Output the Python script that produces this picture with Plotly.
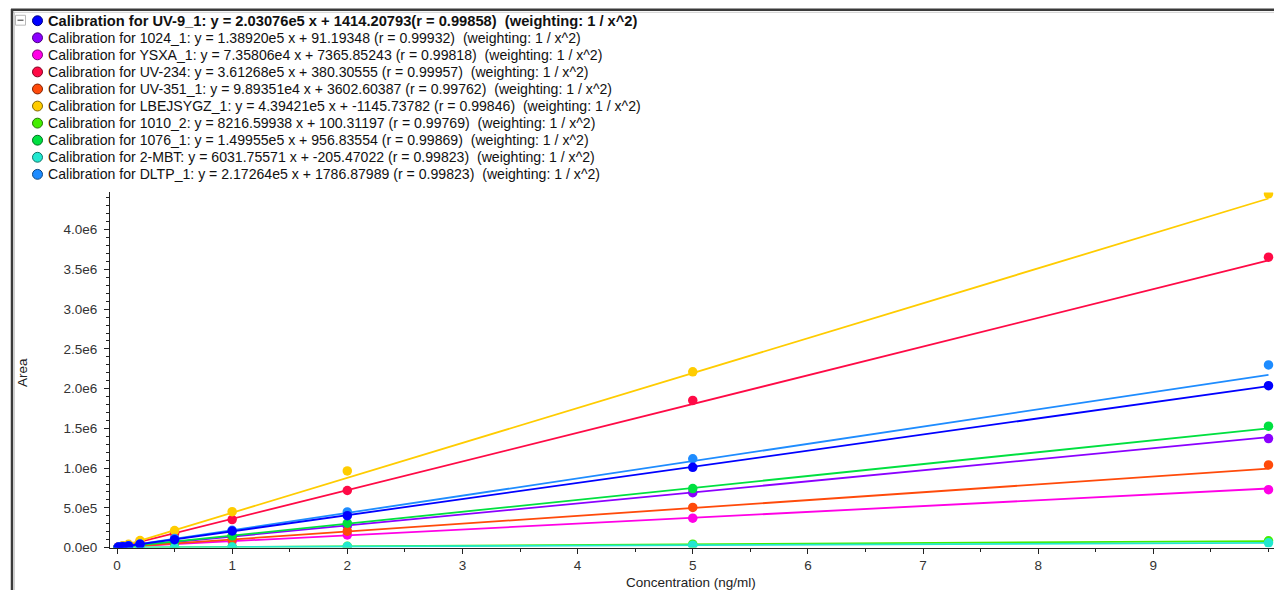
import plotly.graph_objects as go

# ---------------- data ----------------
concentration = [0.01, 0.02, 0.05, 0.1, 0.2, 0.5, 1, 2, 5, 10]

compounds = ["UV-9_1", "1024_1", "YSXA_1", "UV-234", "UV-351_1",
             "LBEJSYGZ_1", "1010_2", "1076_1", "2-MBT", "DLTP_1"]

slopes = [2.03076e5, 1.38920e5, 7.35806e4, 3.61268e5, 9.89351e4,
          4.39421e5, 8216.59938, 1.49955e5, 6031.75571, 2.17264e5]
intercepts = [1414.20793, 91.19348, 7365.85243, 380.30555, 3602.60387,
              -1145.73782, 100.31197, 956.83554, -205.47022, 1786.87989]
r_values = [0.99858, 0.99932, 0.99818, 0.99957, 0.99762,
            0.99846, 0.99769, 0.99869, 0.99823, 0.99823]
slope_text = ["2.03076e5", "1.38920e5", "7.35806e4", "3.61268e5", "9.89351e4",
              "4.39421e5", "8216.59938", "1.49955e5", "6031.75571", "2.17264e5"]

area_uv9 = [3620, 5210, 11940, 20880, 43150, 99870, 208600, 401300, 1009500, 2036800]
area_1024 = [1530, 2790, 7210, 13650, 28420, 68300, 141200, 272800, 690400, 1372000]
area_ysxa = [7980, 9120, 10630, 15280, 21450, 45820, 78900, 158300, 370200, 728000]
area_uv234 = [4120, 7380, 18950, 35700, 74100, 176800, 352600, 718300, 1852000, 3655000]
area_uv351 = [4470, 5720, 8310, 13880, 22760, 54300, 100900, 206400, 505100, 1040000]
area_lbejsygz = [3390, 7450, 21600, 41900, 88400, 213500, 452000, 965000, 2212000, 4452000]
area_1010 = [188, 259, 528, 901, 1790, 4120, 8460, 16180, 42100, 84500]
area_1076 = [2390, 4080, 8260, 16310, 30450, 77200, 148600, 306900, 742500, 1528000]
area_2mbt = [52, 98, 136, 412, 985, 2870, 5710, 12100, 30600, 59300]
area_dltp = [3810, 6390, 12280, 24160, 44380, 113600, 216500, 448200, 1118000, 2298000]

areas = [area_uv9, area_1024, area_ysxa, area_uv234, area_uv351,
         area_lbejsygz, area_1010, area_1076, area_2mbt, area_dltp]

colors = ["#0000FF", "#8B00FF", "#FF00E6", "#FF0A46", "#FF4A0A",
          "#FFCC00", "#44EE00", "#00E040", "#22E8D0", "#1E8CFF"]
outline = ["#000080", "#4B0080", "#80007A", "#800020", "#802000",
           "#806600", "#227700", "#007020", "#117468", "#0F4680"]

y_tick_vals = [0, 5e5, 1e6, 1.5e6, 2e6, 2.5e6, 3e6, 3.5e6, 4e6]
x_tick_vals = [0, 1, 2, 3, 4, 5, 6, 7, 8, 9]

# ---------------- page geometry (pixels) ----------------
W, H = 1274, 598
plot_left, plot_right = 110, 1274
plot_top, plot_bottom = 195, 555
px_per_x = 115.15
x0_px = 117
x_range = [(plot_left - x0_px) / px_per_x, (plot_right - x0_px) / px_per_x]
y_range = [0, 4.47e6]


def px(xp):
    return xp / W


def py(yp):
    return 1 - yp / H


def sci(v):
    if v == 0:
        return "0.0e0"
    e = 0
    m = v
    while m >= 10:
        m /= 10
        e += 1
    return f"{m:.1f}e{e}"


FONT = "Liberation Sans, Arial, sans-serif"
FS = 13.5

fig = go.Figure()

# draw order: the other compounds first, the selected one (index 0) on top
order = list(range(1, len(compounds))) + [0]
for i in order:
    x_fit = [0, max(concentration)]
    y_fit = [slopes[i] * xv + intercepts[i] for xv in x_fit]
    fig.add_trace(go.Scatter(
        x=x_fit, y=y_fit, mode="lines",
        line=dict(color=colors[i], width=1.8),
        hoverinfo="skip", showlegend=False))
    fig.add_trace(go.Scatter(
        x=concentration, y=areas[i], mode="markers",
        marker=dict(color=colors[i], size=9.5, line=dict(width=0)),
        name=compounds[i], showlegend=False))

# ---------------- legend block (drawn manually) ----------------
shapes = []
annotations = []
row0, row_step = 21, 17.3
for i, name in enumerate(compounds):
    yc = row0 + i * row_step
    shapes.append(dict(type="circle", xref="paper", yref="paper",
                       x0=px(32.5), x1=px(42.5), y0=py(yc + 5), y1=py(yc - 5),
                       fillcolor=colors[i], line=dict(color=outline[i], width=1)))
    sign = "+ " if intercepts[i] >= 0 else "+ -"
    if i == 0:
        text = (f"<b>Calibration for {name}: y = {slope_text[i]} x {sign}{abs(intercepts[i]):.5f}"
                f"(r = {r_values[i]:.5f})  (weighting: 1 / x^2)</b>")
        size = 14.7
    else:
        text = (f"Calibration for {name}: y = {slope_text[i]} x {sign}{abs(intercepts[i]):.5f} "
                f"(r = {r_values[i]:.5f})  (weighting: 1 / x^2)")
        size = 14.1
    annotations.append(dict(xref="paper", yref="paper", x=px(45.5), y=py(yc),
                            xanchor="left", yanchor="middle", showarrow=False,
                            text=text, font=dict(family=FONT, size=size, color="#111111")))

# collapse box
shapes.append(dict(type="rect", xref="paper", yref="paper",
                   x0=px(15.5), x1=px(25.5), y0=py(25.5), y1=py(15.5),
                   line=dict(color="#B8B8B8", width=1), fillcolor="white"))
shapes.append(dict(type="line", xref="paper", yref="paper",
                   x0=px(17.5), x1=px(23.5), y0=py(20.5), y1=py(20.5),
                   line=dict(color="#555555", width=1.2)))

# window frame
shapes.append(dict(type="line", xref="paper", yref="paper",
                   x0=px(11), x1=px(W), y0=py(10), y1=py(10),
                   line=dict(color="#3A3A3A", width=2.5)))
shapes.append(dict(type="line", xref="paper", yref="paper",
                   x0=px(12), x1=px(W), y0=py(12.5), y1=py(12.5),
                   line=dict(color="#D0D0D0", width=1)))
shapes.append(dict(type="line", xref="paper", yref="paper",
                   x0=px(12), x1=px(12), y0=py(9), y1=py(H),
                   line=dict(color="#3A3A3A", width=2.5)))
shapes.append(dict(type="line", xref="paper", yref="paper",
                   x0=px(14.5), x1=px(14.5), y0=py(12), y1=py(H),
                   line=dict(color="#D0D0D0", width=1)))

# axis titles
annotations.append(dict(xref="paper", yref="paper", x=px(23), y=py(378),
                        text="Area", textangle=-90, showarrow=False,
                        xanchor="center", yanchor="middle",
                        font=dict(family=FONT, size=FS, color="#222222")))
annotations.append(dict(xref="paper", yref="paper", x=px(691), y=py(590),
                        text="Concentration (ng/ml)", showarrow=False,
                        xanchor="center", yanchor="middle",
                        font=dict(family=FONT, size=FS, color="#222222")))

fig.update_layout(
    width=W, height=H,
    margin=dict(l=0, r=0, t=0, b=0),
    paper_bgcolor="white", plot_bgcolor="white",
    showlegend=False,
    shapes=shapes, annotations=annotations,
    xaxis=dict(domain=[px(plot_left), px(plot_right)], range=x_range,
               showgrid=False, zeroline=False,
               showline=True, linecolor="#222222", linewidth=1,
               ticks="outside", ticklen=5, tickcolor="#222222",
               tickvals=x_tick_vals, ticktext=[str(v) for v in x_tick_vals],
               tickfont=dict(family=FONT, size=FS, color="#333333"),
               minor=dict(dtick=0.5, tick0=0, ticks="outside", ticklen=3,
                          tickcolor="#222222"),
               fixedrange=True),
    yaxis=dict(domain=[py(plot_bottom), py(plot_top)], range=y_range,
               showgrid=False, zeroline=False,
               showline=True, linecolor="#222222", linewidth=1,
               ticks="outside", ticklen=5, tickcolor="#222222",
               ticklabelstandoff=4,
               tickvals=y_tick_vals, ticktext=[sci(v) for v in y_tick_vals],
               tickfont=dict(family=FONT, size=FS, color="#333333"),
               minor=dict(dtick=1e5, tick0=0, ticks="outside", ticklen=3,
                          tickcolor="#222222"),
               fixedrange=True),
)

fig.write_html("out.html")
